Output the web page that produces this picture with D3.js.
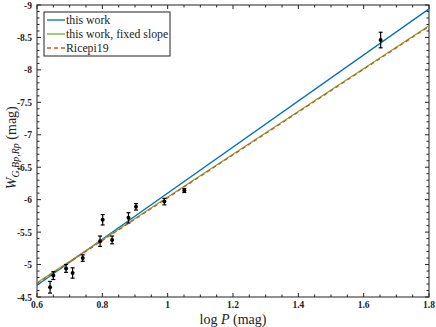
<!DOCTYPE html>
<html>
  <head>
    <meta charset="utf-8" />
    <style>
      body { margin: 0; background: #fff; }
      text { font-family: 'Liberation Serif', 'Times New Roman', serif; }
    </style>
  </head>
  <body>

<svg id="graph"></svg>

<script src="https://d3js.org/d3.v7.min.js"></script>
<script>
const WIDTH = 436
const HEIGHT = 327
const M = { left: 37, right: 7, top: 5, bottom: 30 }

// data points
const LOGP = [0.64, 0.65, 0.689, 0.709, 0.74, 0.793, 0.801, 0.83, 0.88, 0.903, 0.99, 1.051, 1.652]
const WMAG = [-4.65, -4.83, -4.94, -4.87, -5.10, -5.36, -5.69, -5.38, -5.72, -5.89, -5.97, -6.14, -8.46]
const WERR = [0.09, 0.06, 0.06, 0.08, 0.05, 0.08, 0.08, 0.06, 0.08, 0.05, 0.05, 0.03, 0.12]

// fitted lines: value at logP = 0.6 and at logP = 1.8
const LINE_NAMES = ['this work', 'this work, fixed slope', 'Ricepi19']
const LINE_START = [-4.68, -4.72, -4.71]
const LINE_END = [-8.94, -8.68, -8.67]
const LINE_COLORS = ['#0072bd', '#77ac30', '#d95319']

const X_TICKS = [0.6, 0.8, 1, 1.2, 1.4, 1.6, 1.8]
const Y_TICKS = [-9, -8.5, -8, -7.5, -7, -6.5, -6, -5.5, -5, -4.5]

const svg = d3.select('#graph')
  .attr('width', WIDTH)
  .attr('height', HEIGHT)

const x = d3.scaleLinear().domain([0.6, 1.8]).range([M.left, WIDTH - M.right])
const y = d3.scaleLinear().domain([-4.5, -9]).range([HEIGHT - M.bottom, M.top])

const W = WIDTH - M.left - M.right
const H = HEIGHT - M.top - M.bottom

// minor ticks, inward on all four sides
const xMinor = d3.range(0.6, 1.8001, 0.05)
const yMinor = d3.range(-9, -4.4999, 0.1)

function box(g) {
  g.attr('stroke', '#222').attr('stroke-width', 1)
  xMinor.forEach(v => {
    const major = X_TICKS.some(t => Math.abs(t - v) < 1e-6)
    const len = major ? 4 : 2.5
    g.append('line').attr('x1', x(v)).attr('x2', x(v)).attr('y1', y(-4.5)).attr('y2', y(-4.5) - len)
    g.append('line').attr('x1', x(v)).attr('x2', x(v)).attr('y1', y(-9)).attr('y2', y(-9) + len)
  })
  yMinor.forEach(v => {
    const major = Y_TICKS.some(t => Math.abs(t - v) < 1e-6)
    const len = major ? 4 : 2.5
    g.append('line').attr('y1', y(v)).attr('y2', y(v)).attr('x1', x(0.6)).attr('x2', x(0.6) + len)
    g.append('line').attr('y1', y(v)).attr('y2', y(v)).attr('x1', x(1.8)).attr('x2', x(1.8) - len)
  })
  g.append('rect')
    .attr('x', M.left).attr('y', M.top).attr('width', W).attr('height', H)
    .attr('fill', 'none')
}

svg.append('g').call(box)

// tick labels
svg.append('g').selectAll('text')
  .data(X_TICKS)
  .join('text')
  .attr('x', d => x(d))
  .attr('y', y(-4.5) + 11)
  .attr('text-anchor', 'middle')
  .attr('font-size', 9.5)
  .attr('font-weight', 'bold')
  .attr('fill', '#222')
  .text(d => d)

svg.append('g').selectAll('text')
  .data(Y_TICKS)
  .join('text')
  .attr('x', M.left - 5)
  .attr('y', d => y(d) + 3.5)
  .attr('text-anchor', 'end')
  .attr('font-size', 9.5)
  .attr('font-weight', 'bold')
  .attr('fill', '#222')
  .text(d => d)

// axis titles
const xl = svg.append('text')
  .attr('x', x(1.2))
  .attr('y', HEIGHT - 3)
  .attr('text-anchor', 'middle')
  .attr('font-size', 14)
  .attr('fill', '#222')
xl.append('tspan').text('log ')
xl.append('tspan').attr('font-style', 'italic').text('P')
xl.append('tspan').text(' (mag)')

const yl = svg.append('text')
  .attr('transform', `translate(16, ${y(-6.8)}) rotate(-90)`)
  .attr('text-anchor', 'middle')
  .attr('font-size', 14)
  .attr('fill', '#222')
yl.append('tspan').attr('font-style', 'italic').text('W')
yl.append('tspan').attr('font-style', 'italic').attr('font-size', 10).attr('dy', 3).text('G,Bp,Rp')
yl.append('tspan').attr('dy', -3).text(' (mag)')

// lines
const lines = svg.append('g')
LINE_NAMES.forEach((name, i) => {
  lines.append('line')
    .attr('x1', x(0.6)).attr('y1', y(LINE_START[i]))
    .attr('x2', x(1.8)).attr('y2', y(LINE_END[i]))
    .attr('stroke', LINE_COLORS[i])
    .attr('stroke-width', 1.3)
    .attr('stroke-dasharray', i === 2 ? '4,3' : null)
})

// data points with error bars
const pts = svg.append('g')
LOGP.forEach((p, i) => {
  const cx = x(p)
  const y1 = y(WMAG[i] - WERR[i])
  const y2 = y(WMAG[i] + WERR[i])
  pts.append('line').attr('x1', cx).attr('x2', cx).attr('y1', y1).attr('y2', y2)
    .attr('stroke', '#000').attr('stroke-width', 1.2)
  ;[y1, y2].forEach(yy => pts.append('line')
    .attr('x1', cx - 2).attr('x2', cx + 2).attr('y1', yy).attr('y2', yy)
    .attr('stroke', '#000').attr('stroke-width', 1.2))
  pts.append('circle').attr('cx', cx).attr('cy', y(WMAG[i])).attr('r', 2).attr('fill', '#000')
})

// legend
const lg = svg.append('g').attr('transform', 'translate(44, 12)')
lg.append('rect')
  .attr('width', 126).attr('height', 44)
  .attr('fill', '#fff').attr('stroke', '#222').attr('stroke-width', 1)
LINE_NAMES.forEach((name, i) => {
  const yy = 8 + i * 14
  lg.append('line')
    .attr('x1', 3).attr('x2', 21).attr('y1', yy).attr('y2', yy)
    .attr('stroke', LINE_COLORS[i]).attr('stroke-width', 1.3)
    .attr('stroke-dasharray', i === 2 ? '4,3' : null)
  lg.append('text')
    .attr('x', 22).attr('y', yy + 4)
    .attr('font-size', 11.8)
    .attr('fill', '#222')
    .text(name)
})
</script>
  </body>
</html>
